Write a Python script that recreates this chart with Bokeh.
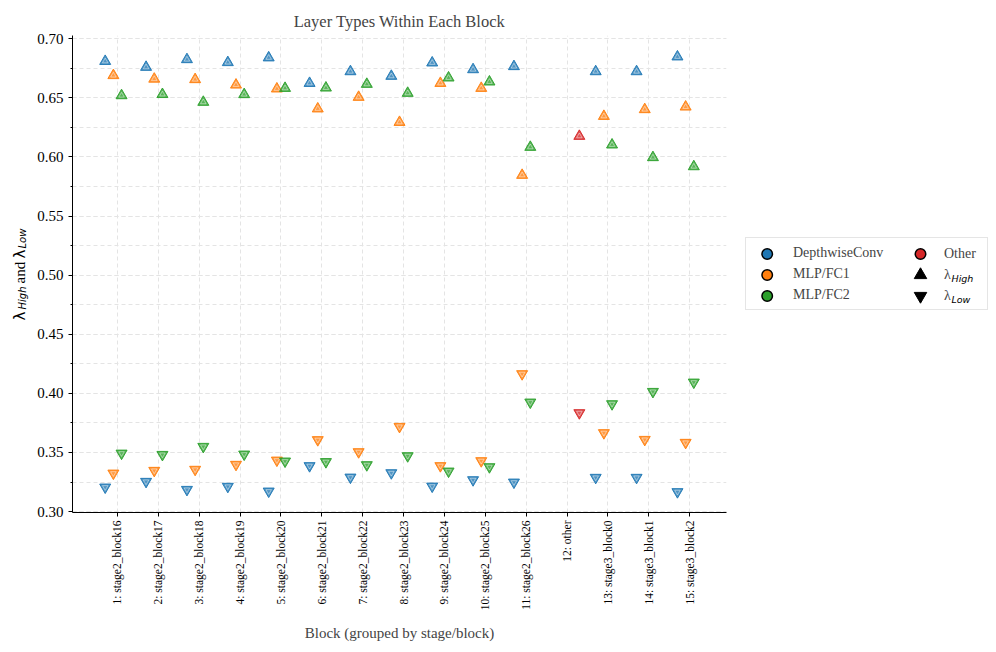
from math import pi
from bokeh.plotting import figure
from bokeh.layouts import row
from bokeh.models import (Range1d, FixedTicker, SingleIntervalTicker, PrintfTickFormatter,
                          Legend, LegendItem, Label)
from bokeh.embed import file_html
from bokeh.resources import INLINE

# ---------------- data ----------------
blocks = ["1: stage2_block16", "2: stage2_block17", "3: stage2_block18", "4: stage2_block19",
          "5: stage2_block20", "6: stage2_block21", "7: stage2_block22", "8: stage2_block23",
          "9: stage2_block24", "10: stage2_block25", "11: stage2_block26", "12: other",
          "13: stage3_block0", "14: stage3_block1", "15: stage3_block2"]
layer_types = ["DepthwiseConv", "MLP/FC1", "MLP/FC2", "Other"]

high_dw = [0.681, 0.676, 0.6825, 0.680, 0.684, 0.6624, 0.6723, 0.6684, 0.6797, 0.674, 0.6766,
           None, 0.6723, 0.6723, 0.6848]
high_fc1 = [0.669, 0.666, 0.6656, 0.661, 0.6577, 0.6408, 0.6506, 0.6294, 0.6624, 0.6582, 0.5846,
            None, 0.6345, 0.6402, 0.6424]
high_fc2 = [0.652, 0.653, 0.6464, 0.6529, 0.6582, 0.6585, 0.6616, 0.654, 0.667, 0.6636, 0.6083,
            None, 0.6103, 0.5996, 0.5919]
high_other = [None, None, None, None, None, None, None, None, None, None, None,
              0.6176, None, None, None]

low_dw = [0.3206, 0.3254, 0.3186, 0.3212, 0.3172, 0.3387, 0.329, 0.3327, 0.3214, 0.3268, 0.3248,
          None, 0.3288, 0.3288, 0.3167]
low_fc1 = [0.3324, 0.3347, 0.3356, 0.3398, 0.3434, 0.3607, 0.3505, 0.3719, 0.3387, 0.3429, 0.4165,
           None, 0.3666, 0.3609, 0.3584]
low_fc2 = [0.3493, 0.3482, 0.355, 0.3485, 0.3426, 0.3421, 0.3395, 0.3471, 0.3341, 0.3378, 0.3925,
           None, 0.3911, 0.4015, 0.4094]
low_other = [None, None, None, None, None, None, None, None, None, None, None,
             0.3835, None, None, None]

high_vals = [high_dw, high_fc1, high_fc2, high_other]
low_vals = [low_dw, low_fc1, low_fc2, low_other]

# ---------------- style ----------------
colors = ["#1f77b4", "#ff7f0e", "#2ca02c", "#d62728"]
offsets = [-0.3, -0.1, 0.1, 0.3]
SERIF = "Liberation Serif"
GRID = "#e4e4e4"
H = 648

p = figure(width=704, height=H, output_backend="svg", toolbar_location=None,
           x_range=Range1d(-0.1, 15.9), y_range=Range1d(0.2992, 0.7028),
           min_border_left=40, min_border_right=10, min_border_top=35, min_border_bottom=136,
           title="Layer Types Within Each Block")
p.outline_line_color = None
p.background_fill_color = "white"
p.border_fill_color = "white"

p.title.align = "center"
p.title.text_font = SERIF
p.title.text_font_size = "16.5px"
p.title.text_font_style = "normal"
p.title.standoff = 9

xt = FixedTicker(ticks=list(range(1, len(blocks) + 1)))
yt = SingleIntervalTicker(interval=0.05, num_minor_ticks=2)
p.xaxis.ticker = xt
p.xgrid.ticker = xt
p.yaxis.ticker = yt
p.ygrid.ticker = yt
p.xaxis.major_label_overrides = {i + 1: b for i, b in enumerate(blocks)}
p.xaxis.major_label_orientation = pi / 2
p.yaxis.formatter = PrintfTickFormatter(format="%.2f")

for ax in (p.xaxis[0], p.yaxis[0]):
    ax.axis_line_color = "black"
    ax.axis_line_width = 1
    ax.major_tick_line_color = "black"
    ax.major_tick_in = 0
    ax.major_tick_out = 4
    ax.minor_tick_in = 0
    ax.minor_tick_out = 2
    ax.major_label_text_font = SERIF
    ax.axis_label_text_font = SERIF
    ax.axis_label_text_font_style = "normal"
    ax.axis_label_text_font_size = "15px"
    ax.major_label_text_color = "black"
p.xaxis.minor_tick_line_color = None
p.xaxis.major_label_text_font_size = "11.5px"
p.xaxis.major_label_standoff = 4
p.xaxis.axis_label = "Block (grouped by stage/block)"
p.xaxis.axis_label_standoff = 12
p.yaxis.major_label_text_font_size = "15px"
p.yaxis.major_label_standoff = 5

for g in (p.xgrid[0], p.ygrid[0]):
    g.grid_line_color = GRID
    g.grid_line_dash = "4 3"
    g.grid_line_width = 1
p.ygrid.minor_grid_line_color = GRID
p.ygrid.minor_grid_line_dash = "4 3"

# ---------------- points ----------------
for vals_h, vals_l, c, off in zip(high_vals, low_vals, colors, offsets):
    for vals, mk in ((vals_h, "triangle"), (vals_l, "inverted_triangle")):
        xs = [i + 1 + off for i, v in enumerate(vals) if v is not None]
        ys = [v for v in vals if v is not None]
        p.scatter(xs, ys, marker=mk, size=11, fill_color=c, fill_alpha=0.78,
                  line_color=c, line_width=1, line_alpha=0.95)
        p.scatter(xs, ys, marker=mk, size=5.5, fill_alpha=0, line_color="white",
                  line_alpha=0.55, line_width=0.8)


def blank_fig(width):
    # frame fills the figure horizontally; 1 data unit = 1 px
    f = figure(width=width, height=H, output_backend="svg", toolbar_location=None,
               x_range=Range1d(0, width), y_range=Range1d(0, 477),
               x_axis_type=None, y_axis_type=None,
               min_border_left=0, min_border_right=0, min_border_top=0, min_border_bottom=0)
    f.outline_line_color = None
    f.grid.visible = False
    f.background_fill_color = "white"
    f.border_fill_color = "white"
    return f


def add_text(f, text, x, y, size, style="italic", font="DejaVu Sans", angle=0.0):
    f.add_layout(Label(x=x, y=y, x_units="screen", y_units="screen", text=text,
                       text_font=font, text_font_size=size, text_font_style=style,
                       text_align="left", text_baseline="middle", angle=angle,
                       text_color="black", level="overlay"))


# ---------------- y-axis label (λ_High and λ_Low) ----------------
# (frames of the row are aligned: screen y is measured from the frame bottom)
ylab = blank_fig(32)
add_text(ylab, "λ", 19, 192, "15px", style="normal", angle=pi / 2)
add_text(ylab, "High", 21.5, 203, "10px", angle=pi / 2)
add_text(ylab, "and", 19, 229, "15px", style="normal", font=SERIF, angle=pi / 2)
add_text(ylab, "λ", 19, 254, "15px", style="normal", angle=pi / 2)
add_text(ylab, "Low", 21.5, 264, "10px", angle=pi / 2)

# ---------------- legend ----------------
lf = blank_fig(254)
rows_y = [258.5, 237.5, 216.5]   # legend swatch centres (px from frame bottom)
colA_x, colB_x = 30.7, 184


def placeholder():
    # invisible renderer that only carries the legend entry
    return lf.scatter(x=[-10], y=[-10], size=1, fill_alpha=0, line_alpha=0)


def swatch(marker, fill, size, x, y):
    lf.scatter(x=[x], y=[y], marker=marker, size=size, fill_color=fill,
               line_color="black", line_width=1.5 if marker == "circle" else 1)


for c, yy in zip(colors[:3], rows_y):
    swatch("circle", c, 10.5, colA_x, yy)
swatch("circle", colors[3], 10.5, colB_x, rows_y[0])
swatch("triangle", "black", 12.5, colB_x, rows_y[1])
swatch("inverted_triangle", "black", 12.5, colB_x, rows_y[2])

itemsA = [LegendItem(label=n, renderers=[placeholder()]) for n in layer_types[:3]]
itemsB = [LegendItem(label=layer_types[3], renderers=[placeholder()]),
          LegendItem(label="λ", renderers=[placeholder()]),
          LegendItem(label="λ", renderers=[placeholder()])]

common = dict(orientation="vertical", glyph_width=35, glyph_height=21, spacing=0, padding=4,
              label_standoff=8, label_text_font=SERIF, label_text_font_size="14px",
              label_text_baseline="middle")
legA = Legend(items=itemsA, location=(9, 202), label_width=190,
              border_line_color="#cccccc", border_line_width=1,
              background_fill_alpha=0, **common)
legB = Legend(items=itemsB, location=(165, 206), label_width=20,
              border_line_color=None, background_fill_alpha=0, **common)
lf.add_layout(legA)
lf.add_layout(legB)
add_text(lf, "High", 215, 234, "9.5px")
add_text(lf, "Low", 215, 213, "9.5px")

layout = row(ylab, p, lf)
open("out.html", "w").write(file_html(layout, INLINE))
